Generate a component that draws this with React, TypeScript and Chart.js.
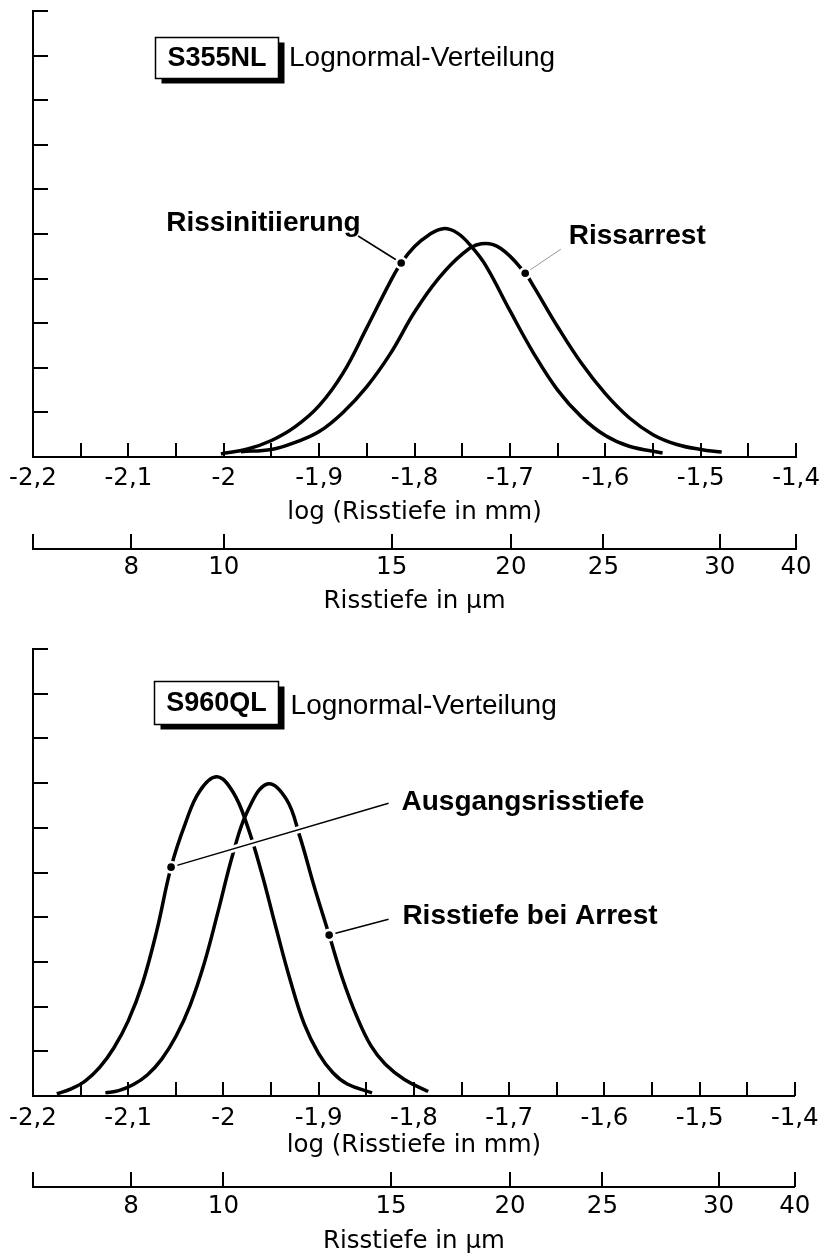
import React, { useEffect, useRef } from "react";
import { Chart, registerables } from "chart.js";

Chart.register(...registerables);

const AXIS_FONT = "'DejaVu Sans', Verdana, sans-serif";
const NOTE_FONT = "'Liberation Sans', Arial, Helvetica, sans-serif";

// ---- axes ----
const X_MIN = -2.2;
const X_MAX = -1.4;
const X_LABEL_VALUES = [-2.2, -2.1, -2.0, -1.9, -1.8, -1.7, -1.6, -1.5, -1.4];
const X_TICK_MARKS = [-2.15, -2.1, -2.05, -2.0, -1.95, -1.9, -1.85, -1.8, -1.75, -1.7, -1.65, -1.6, -1.55, -1.5, -1.45, -1.4];
const UM_LABELS = ["", "8", "10", "15", "20", "25", "30", "40"];
const UM_TICK_POS = [-2.2, -2.097, -2.0, -1.824, -1.699, -1.602, -1.48, -1.4];
const Y_MAX = 10;
const Y_TICK_MARKS = [1, 2, 3, 4, 5, 6, 7, 8, 9, 10];

// ---- S355NL ----
const S355_INIT_X = [-2.003, -1.975, -1.95, -1.925, -1.9, -1.875, -1.85, -1.825, -1.814, -1.8, -1.785, -1.77, -1.755, -1.74, -1.725, -1.7, -1.675, -1.65, -1.625, -1.6, -1.575, -1.54];
const S355_INIT_Y = [0.07, 0.18, 0.37, 0.68, 1.15, 1.88, 2.9, 3.95, 4.35, 4.72, 4.98, 5.12, 5.02, 4.71, 4.28, 3.28, 2.32, 1.5, 0.9, 0.48, 0.24, 0.09];
const S355_ARREST_X = [-1.982, -1.95, -1.925, -1.9, -1.875, -1.85, -1.825, -1.8, -1.775, -1.75, -1.73, -1.71, -1.684, -1.675, -1.65, -1.625, -1.6, -1.575, -1.55, -1.525, -1.5, -1.478];
const S355_ARREST_Y = [0.12, 0.17, 0.33, 0.57, 1.0, 1.58, 2.33, 3.25, 4.0, 4.55, 4.78, 4.68, 4.12, 3.82, 2.92, 2.1, 1.42, 0.88, 0.5, 0.28, 0.17, 0.11];

// ---- S960QL ----
const S960_INIT_X = [-2.175, -2.16, -2.145, -2.13, -2.115, -2.1, -2.085, -2.07, -2.055, -2.04, -2.025, -2.007, -1.99, -1.975, -1.96, -1.945, -1.93, -1.915, -1.9, -1.885, -1.87, -1.844];
const S960_INIT_Y = [0.05, 0.16, 0.34, 0.64, 1.08, 1.68, 2.52, 3.7, 5.12, 6.1, 6.82, 7.14, 6.8, 6.05, 5.0, 3.78, 2.6, 1.6, 0.95, 0.52, 0.27, 0.07];
const S960_ARREST_X = [-2.124, -2.11, -2.095, -2.08, -2.065, -2.05, -2.035, -2.02, -2.005, -1.99, -1.975, -1.954, -1.934, -1.92, -1.905, -1.889, -1.875, -1.86, -1.845, -1.83, -1.81, -1.785];
const S960_ARREST_Y = [0.07, 0.12, 0.25, 0.47, 0.82, 1.33, 2.03, 2.98, 4.18, 5.42, 6.36, 6.98, 6.64, 5.82, 4.71, 3.6, 2.63, 1.78, 1.12, 0.71, 0.37, 0.1];

const fmtLog = (v: number) => String(Math.round(v * 100) / 100).replace(".", ",");

type Leader = { ds: number; idx: number; to: [number, number]; color: string; width: number };
type Label = { text: string; x: number; y: number; align: "left" | "right" };
type PanelSpec = {
  height: number;
  padTop: number;
  xTickPad: number;
  xTitlePad: { top: number; bottom: number };
  umTickPad: number;
  umTitlePad: { top: number; bottom: number };
  series: { xs: number[]; ys: number[] }[];
  box: { x: number; y: number; w: number; h: number; text: string };
  subtitle: { x: number; y: number; text: string };
  labels: Label[];
  leaders: Leader[];
};

const TOP: PanelSpec = {
  height: 620,
  padTop: 11,
  xTickPad: 7,
  xTitlePad: { top: -2, bottom: 21.2 },
  umTickPad: 4.3,
  umTitlePad: { top: 0.3, bottom: 3.3 },
  series: [
    { xs: S355_INIT_X, ys: S355_INIT_Y },
    { xs: S355_ARREST_X, ys: S355_ARREST_Y },
  ],
  box: { x: -2.0725, y: 8.96, w: 123, h: 41, text: "S355NL" },
  subtitle: { x: -1.9316, y: 8.96, text: "Lognormal-Verteilung" },
  labels: [
    { text: "Rissinitiierung", x: -1.8565, y: 5.27, align: "right" },
    { text: "Rissarrest", x: -1.6383, y: 4.98, align: "left" },
  ],
  leaders: [
    { ds: 0, idx: 8, to: [-1.8591, 4.955], color: "#000", width: 1.5 },
    { ds: 1, idx: 12, to: [-1.6466, 4.66], color: "#999", width: 1 },
  ],
};

const BOTTOM: PanelSpec = {
  height: 637,
  padTop: 29,
  xTickPad: 8.3,
  xTitlePad: { top: -10.7, bottom: 26.3 },
  umTickPad: 5.3,
  umTitlePad: { top: 0.3, bottom: 0.3 },
  series: [
    { xs: S960_INIT_X, ys: S960_INIT_Y },
    { xs: S960_ARREST_X, ys: S960_ARREST_Y },
  ],
  box: { x: -2.0725, y: 8.81, w: 124, h: 43, text: "S960QL" },
  subtitle: { x: -1.9295, y: 8.75, text: "Lognormal-Verteilung" },
  labels: [
    { text: "Ausgangsrisstiefe", x: -1.813, y: 6.6, align: "left" },
    { text: "Risstiefe bei Arrest", x: -1.8121, y: 4.05, align: "left" },
  ],
  leaders: [
    { ds: 0, idx: 8, to: [-1.8266, 6.548], color: "#000", width: 1.5 },
    { ds: 1, idx: 15, to: [-1.8266, 3.953], color: "#000", width: 1.5 },
  ],
};

function line(ctx: CanvasRenderingContext2D, x1: number, y1: number, x2: number, y2: number) {
  ctx.beginPath();
  ctx.moveTo(x1, y1);
  ctx.lineTo(x2, y2);
  ctx.stroke();
}

function makeDecor(spec: PanelSpec) {
  return {
    id: "decor",
    afterDraw(chart: any) {
      const { ctx, chartArea } = chart;
      const xs = chart.scales.x;
      const ys = chart.scales.y;
      const um = chart.scales.x2;
      ctx.save();
      // inward tick marks
      ctx.strokeStyle = "#000";
      ctx.lineWidth = 2;
      const axX = chartArea.left;
      Y_TICK_MARKS.forEach((v) => {
        const py = Math.round(ys.getPixelForValue(v));
        line(ctx, axX, py, axX + 15, py);
      });
      const axY = chartArea.bottom;
      X_TICK_MARKS.forEach((v) => {
        const px = Math.round(xs.getPixelForValue(v));
        line(ctx, px, axY, px, axY - 14);
      });
      UM_TICK_POS.forEach((v) => {
        const px = Math.round(um.getPixelForValue(v));
        line(ctx, px, um.top, px, um.top - 15);
      });

      // leaders with white halo
      spec.leaders.forEach((l) => {
        const el = chart.getDatasetMeta(l.ds).data[l.idx];
        const tx = xs.getPixelForValue(l.to[0]);
        const ty = ys.getPixelForValue(l.to[1]);
        ctx.strokeStyle = "#fff";
        ctx.lineWidth = 7;
        line(ctx, el.x, el.y, tx, ty);
        ctx.strokeStyle = l.color;
        ctx.lineWidth = l.width;
        line(ctx, el.x, el.y, tx, ty);
      });
      // markers
      spec.leaders.forEach((l) => {
        const el = chart.getDatasetMeta(l.ds).data[l.idx];
        ctx.fillStyle = "#fff";
        ctx.beginPath();
        ctx.arc(el.x, el.y, 6.5, 0, Math.PI * 2);
        ctx.fill();
        ctx.fillStyle = "#000";
        ctx.beginPath();
        ctx.arc(el.x, el.y, 3.8, 0, Math.PI * 2);
        ctx.fill();
      });

      // labelled box with shadow
      const b = spec.box;
      const bx = Math.round(xs.getPixelForValue(b.x)) + 0.5;
      const by = Math.round(ys.getPixelForValue(b.y) - b.h / 2) + 0.5;
      ctx.fillStyle = "#000";
      ctx.fillRect(bx + 6, by + 5, b.w, b.h);
      ctx.fillStyle = "#fff";
      ctx.fillRect(bx, by, b.w, b.h);
      ctx.strokeStyle = "#000";
      ctx.lineWidth = 1.5;
      ctx.strokeRect(bx, by, b.w, b.h);
      ctx.fillStyle = "#000";
      ctx.textBaseline = "middle";
      ctx.textAlign = "center";
      ctx.font = `bold 27px ${NOTE_FONT}`;
      ctx.fillText(b.text, bx + b.w / 2, by + b.h / 2 + 1);

      ctx.textAlign = "left";
      ctx.font = `28px ${NOTE_FONT}`;
      ctx.fillText(spec.subtitle.text, xs.getPixelForValue(spec.subtitle.x), ys.getPixelForValue(spec.subtitle.y) + 1);

      ctx.font = `bold 28px ${NOTE_FONT}`;
      spec.labels.forEach((lb) => {
        ctx.textAlign = lb.align;
        ctx.fillText(lb.text, xs.getPixelForValue(lb.x), ys.getPixelForValue(lb.y) + 1);
      });
      ctx.restore();
    },
  };
}

function buildConfig(spec: PanelSpec): any {
  const axisFont = { family: AXIS_FONT, size: 24.5, lineHeight: 1.2 };
  return {
    type: "line",
    data: {
      datasets: spec.series.map((s) => ({
        data: s.xs.map((x, i) => ({ x, y: s.ys[i] })),
        borderColor: "#000",
        borderWidth: 3.5,
        pointRadius: 0,
        fill: false,
        tension: 0.4,
      })),
    },
    options: {
      responsive: false,
      animation: false,
      devicePixelRatio: 1,
      events: [],
      layout: { padding: { left: 33, right: 22, top: spec.padTop, bottom: 0 }, autoPadding: false },
      plugins: { legend: { display: false }, tooltip: { enabled: false } },
      scales: {
        x: {
          type: "linear",
          position: "bottom",
          min: X_MIN,
          max: X_MAX,
          afterBuildTicks: (s: any) => {
            s.ticks = X_LABEL_VALUES.map((value) => ({ value }));
          },
          ticks: {
            autoSkip: false,
            maxRotation: 0,
            padding: spec.xTickPad,
            color: "#000",
            font: axisFont,
            callback: (v: number) => fmtLog(v),
          },
          grid: { display: false, drawTicks: false },
          border: { display: true, color: "#000", width: 2 },
          title: {
            display: true,
            text: "log (Risstiefe in mm)",
            color: "#000",
            font: axisFont,
            padding: spec.xTitlePad,
          },
        },
        x2: {
          type: "linear",
          axis: "x",
          position: "bottom",
          min: X_MIN,
          max: X_MAX,
          afterBuildTicks: (s: any) => {
            s.ticks = UM_TICK_POS.map((value) => ({ value }));
          },
          ticks: {
            autoSkip: false,
            maxRotation: 0,
            padding: spec.umTickPad,
            color: "#000",
            font: axisFont,
            callback: (_v: number, i: number) => UM_LABELS[i],
          },
          grid: { display: false, drawTicks: false },
          border: { display: true, color: "#000", width: 2 },
          title: {
            display: true,
            text: "Risstiefe in µm",
            color: "#000",
            font: axisFont,
            padding: spec.umTitlePad,
          },
        },
        y: {
          type: "linear",
          min: 0,
          max: Y_MAX,
          ticks: { display: false },
          grid: { display: false, drawTicks: false },
          border: { display: true, color: "#000", width: 2 },
        },
      },
    },
    plugins: [makeDecor(spec)],
  };
}

function Panel({ spec }: { spec: PanelSpec }) {
  const ref = useRef<HTMLCanvasElement>(null);
  useEffect(() => {
    const chart = new Chart(ref.current as HTMLCanvasElement, buildConfig(spec));
    return () => chart.destroy();
  }, [spec]);
  return (
    <canvas
      ref={ref}
      width={827}
      height={spec.height}
      style={{ display: "block", width: 827, height: spec.height }}
    />
  );
}

export default function App() {
  return (
    <div style={{ position: "absolute", left: 0, top: 0, width: 827, height: 1257, background: "#fff" }}>
      <Panel spec={TOP} />
      <Panel spec={BOTTOM} />
    </div>
  );
}
